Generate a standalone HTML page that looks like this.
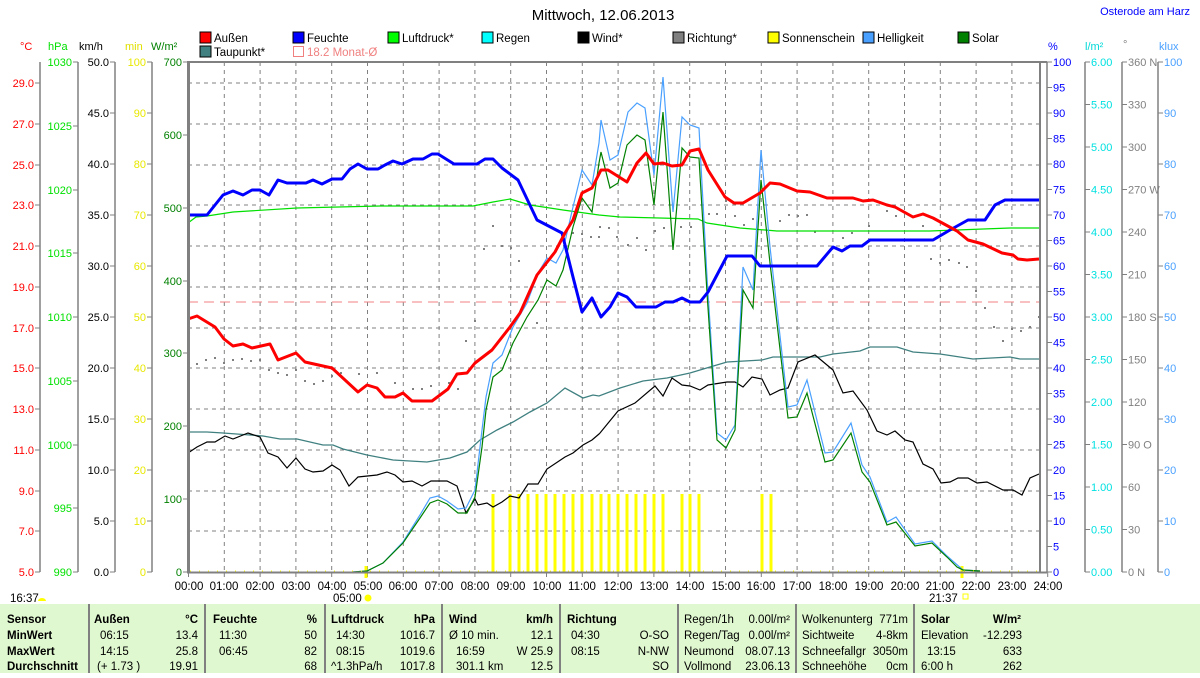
<!DOCTYPE html>
<html><head><meta charset="utf-8"><style>
body{margin:0;background:#fff;width:1200px;height:673px;overflow:hidden;font-family:"Liberation Sans",sans-serif}
svg text{font-family:"Liberation Sans",sans-serif}
</style></head><body>
<svg width="1200" height="673" viewBox="0 0 1200 673" xmlns="http://www.w3.org/2000/svg" font-size="11">
<rect width="1200" height="673" fill="#fff"/>
<text x="603" y="20" font-size="15" text-anchor="middle">Mittwoch, 12.06.2013</text>
<text x="1190" y="15" font-size="11" fill="#0000ff" text-anchor="end">Osterode am Harz</text>
<!-- legend -->
<g font-size="11.5">
<rect x="200" y="32" width="11" height="11" fill="#f00" stroke="#000"/><text x="214" y="42">Außen</text>
<rect x="293" y="32" width="11" height="11" fill="#00f" stroke="#000"/><text x="307" y="42">Feuchte</text>
<rect x="388" y="32" width="11" height="11" fill="#0f0" stroke="#000"/><text x="402" y="42">Luftdruck*</text>
<rect x="482" y="32" width="11" height="11" fill="#0ff" stroke="#000"/><text x="496" y="42">Regen</text>
<rect x="578" y="32" width="11" height="11" fill="#000" stroke="#000"/><text x="592" y="42">Wind*</text>
<rect x="673" y="32" width="11" height="11" fill="#808080" stroke="#000"/><text x="687" y="42">Richtung*</text>
<rect x="768" y="32" width="11" height="11" fill="#ff0" stroke="#000"/><text x="782" y="42">Sonnenschein</text>
<rect x="863" y="32" width="11" height="11" fill="#4aa0ff" stroke="#000"/><text x="877" y="42">Helligkeit</text>
<rect x="958" y="32" width="11" height="11" fill="#008000" stroke="#000"/><text x="972" y="42">Solar</text>
<rect x="200" y="46" width="11" height="11" fill="#408080" stroke="#000"/><text x="214" y="56">Taupunkt*</text>
<rect x="293.5" y="46.5" width="10" height="10" fill="none" stroke="#f08080"/><text x="307" y="56" fill="#f08080">18.2 Monat-Ø</text>
</g>
<!-- axis titles -->
<text x="20" y="50" fill="#f00">°C</text>
<text x="48" y="50" fill="#00e000">hPa</text>
<text x="79" y="50">km/h</text>
<text x="125" y="50" fill="#e0e000">min</text>
<text x="151" y="50" fill="#008000">W/m²</text>
<text x="1048" y="50" fill="#00f">%</text>
<text x="1085" y="50" fill="#00d8d8">l/m²</text>
<text x="1123" y="48" fill="#808080">°</text>
<text x="1159" y="50" fill="#4aa0ff">klux</text>
<!-- axis lines -->
<g stroke="#808080" stroke-width="1.5">
<line x1="40" y1="62" x2="40" y2="572"/><line x1="78" y1="62" x2="78" y2="572"/>
<line x1="115" y1="62" x2="115" y2="572"/><line x1="152" y1="62" x2="152" y2="572"/>
<line x1="1047" y1="62" x2="1047" y2="572"/><line x1="1085" y1="62" x2="1085" y2="572"/>
<line x1="1122" y1="62" x2="1122" y2="572"/><line x1="1158" y1="62" x2="1158" y2="572"/>
</g>
<g fill="#f00" text-anchor="end">
<text x="34" y="87">29.0</text><text x="34" y="128">27.0</text><text x="34" y="169">25.0</text><text x="34" y="209">23.0</text><text x="34" y="250">21.0</text><text x="34" y="291">19.0</text><text x="34" y="332">17.0</text><text x="34" y="372">15.0</text><text x="34" y="413">13.0</text><text x="34" y="454">11.0</text><text x="34" y="495">9.0</text><text x="34" y="535">7.0</text><text x="34" y="576">5.0</text>
</g>
<g stroke="#808080"><path d="M35 83h5M35 124h5M35 165h5M35 205h5M35 246h5M35 287h5M35 328h5M35 368h5M35 409h5M35 450h5M35 491h5M35 531h5M35 572h5"/>
<path d="M73 62h5M73 126h5M73 190h5M73 253h5M73 317h5M73 381h5M73 445h5M73 508h5M73 572h5"/>
<path d="M110 62h5M110 113h5M110 164h5M110 215h5M110 266h5M110 317h5M110 368h5M110 419h5M110 470h5M110 521h5M110 572h5"/>
<path d="M147 62h5M147 113h5M147 164h5M147 215h5M147 266h5M147 317h5M147 368h5M147 419h5M147 470h5M147 521h5M147 572h5"/>
<path d="M183 62h5M183 135h5M183 208h5M183 281h5M183 353h5M183 426h5M183 499h5M183 572h5"/>
<path d="M1047 62h5M1047 87.5h5M1047 113h5M1047 138.5h5M1047 164h5M1047 189.5h5M1047 215h5M1047 240.5h5M1047 266h5M1047 291.5h5M1047 317h5M1047 342.5h5M1047 368h5M1047 393.5h5M1047 419h5M1047 444.5h5M1047 470h5M1047 495.5h5M1047 521h5M1047 546.5h5M1047 572h5"/>
<path d="M1085 62h5M1085 104.5h5M1085 147h5M1085 189.5h5M1085 232h5M1085 274.5h5M1085 317h5M1085 359.5h5M1085 402h5M1085 444.5h5M1085 487h5M1085 529.5h5M1085 572h5"/>
<path d="M1122 62h5M1122 104.5h5M1122 147h5M1122 189.5h5M1122 232h5M1122 274.5h5M1122 317h5M1122 359.5h5M1122 402h5M1122 444.5h5M1122 487h5M1122 529.5h5M1122 572h5"/>
<path d="M1158 62h5M1158 113h5M1158 164h5M1158 215h5M1158 266h5M1158 317h5M1158 368h5M1158 419h5M1158 470h5M1158 521h5M1158 572h5"/>
</g>
<g fill="#00e000" text-anchor="end">
<text x="72" y="66">1030</text><text x="72" y="130">1025</text><text x="72" y="194">1020</text><text x="72" y="257">1015</text><text x="72" y="321">1010</text><text x="72" y="385">1005</text><text x="72" y="449">1000</text><text x="72" y="512">995</text><text x="72" y="576">990</text>
</g>
<g fill="#000" text-anchor="end">
<text x="109" y="66">50.0</text><text x="109" y="117">45.0</text><text x="109" y="168">40.0</text><text x="109" y="219">35.0</text><text x="109" y="270">30.0</text><text x="109" y="321">25.0</text><text x="109" y="372">20.0</text><text x="109" y="423">15.0</text><text x="109" y="474">10.0</text><text x="109" y="525">5.0</text><text x="109" y="576">0.0</text>
</g>
<g fill="#e8e800" text-anchor="end">
<text x="146" y="66">100</text><text x="146" y="117">90</text><text x="146" y="168">80</text><text x="146" y="219">70</text><text x="146" y="270">60</text><text x="146" y="321">50</text><text x="146" y="372">40</text><text x="146" y="423">30</text><text x="146" y="474">20</text><text x="146" y="525">10</text><text x="146" y="576">0</text>
</g>
<g fill="#008000" text-anchor="end">
<text x="182" y="66">700</text><text x="182" y="139">600</text><text x="182" y="212">500</text><text x="182" y="285">400</text><text x="182" y="357">300</text><text x="182" y="430">200</text><text x="182" y="503">100</text><text x="182" y="576">0</text>
</g>
<g fill="#00f">
<text x="1053" y="66">100</text><text x="1053" y="91.5">95</text><text x="1053" y="117">90</text><text x="1053" y="142.5">85</text><text x="1053" y="168">80</text><text x="1053" y="193.5">75</text><text x="1053" y="219">70</text><text x="1053" y="244.5">65</text><text x="1053" y="270">60</text><text x="1053" y="295.5">55</text><text x="1053" y="321">50</text><text x="1053" y="346.5">45</text><text x="1053" y="372">40</text><text x="1053" y="397.5">35</text><text x="1053" y="423">30</text><text x="1053" y="448.5">25</text><text x="1053" y="474">20</text><text x="1053" y="499.5">15</text><text x="1053" y="525">10</text><text x="1053" y="550.5">5</text><text x="1053" y="576">0</text>
</g>
<g fill="#00e0e0">
<text x="1091" y="66">6.00</text><text x="1091" y="108.5">5.50</text><text x="1091" y="151">5.00</text><text x="1091" y="193.5">4.50</text><text x="1091" y="236">4.00</text><text x="1091" y="278.5">3.50</text><text x="1091" y="321">3.00</text><text x="1091" y="363.5">2.50</text><text x="1091" y="406">2.00</text><text x="1091" y="448.5">1.50</text><text x="1091" y="491">1.00</text><text x="1091" y="533.5">0.50</text><text x="1091" y="576">0.00</text>
</g>
<g fill="#808080">
<text x="1128" y="66">360 N</text><text x="1128" y="108.5">330</text><text x="1128" y="151">300</text><text x="1128" y="193.5">270 W</text><text x="1128" y="236">240</text><text x="1128" y="278.5">210</text><text x="1128" y="321">180 S</text><text x="1128" y="363.5">150</text><text x="1128" y="406">120</text><text x="1128" y="448.5">90 O</text><text x="1128" y="491">60</text><text x="1128" y="533.5">30</text><text x="1128" y="576">0 N</text>
</g>
<g fill="#4aa0ff">
<text x="1164" y="66">100</text><text x="1164" y="117">90</text><text x="1164" y="168">80</text><text x="1164" y="219">70</text><text x="1164" y="270">60</text><text x="1164" y="321">50</text><text x="1164" y="372">40</text><text x="1164" y="423">30</text><text x="1164" y="474">20</text><text x="1164" y="525">10</text><text x="1164" y="576">0</text>
</g>
<!-- grid -->
<g stroke="#808080" stroke-dasharray="4,4" stroke-width="1">
<path d="M188 83H1040M188 124H1040M188 165H1040M188 205H1040M188 246H1040M188 287H1040M188 328H1040M188 368H1040M188 409H1040M188 450H1040M188 491H1040M188 531H1040"/>
<path d="M224.3 62V572M260.1 62V572M295.9 62V572M331.7 62V572M367.5 62V572M403.3 62V572M439.1 62V572M474.9 62V572M510.7 62V572M546.5 62V572M582.3 62V572M618.1 62V572M653.9 62V572M689.7 62V572M725.5 62V572M761.3 62V572M797.1 62V572M832.9 62V572M868.7 62V572M904.5 62V572M940.3 62V572M976.1 62V572M1011.9 62V572"/>
</g>
<g stroke="#808080">
<path d="M188.5 572v5M224.3 572v5M260.1 572v5M295.9 572v5M331.7 572v5M367.5 572v5M403.3 572v5M439.1 572v5M474.9 572v5M510.7 572v5M546.5 572v5M582.3 572v5M618.1 572v5M653.9 572v5M689.7 572v5M725.5 572v5M761.3 572v5M797.1 572v5M832.9 572v5M868.7 572v5M904.5 572v5M940.3 572v5M976.1 572v5M1011.9 572v5M1047.7 572v5"/>
</g>
<g text-anchor="middle" font-size="11.5">
<text x="189" y="590">00:00</text><text x="224" y="590">01:00</text><text x="260" y="590">02:00</text><text x="296" y="590">03:00</text><text x="332" y="590">04:00</text><text x="368" y="590">05:00</text><text x="403" y="590">06:00</text><text x="439" y="590">07:00</text><text x="475" y="590">08:00</text><text x="511" y="590">09:00</text><text x="547" y="590">10:00</text><text x="582" y="590">11:00</text><text x="618" y="590">12:00</text><text x="654" y="590">13:00</text><text x="690" y="590">14:00</text><text x="726" y="590">15:00</text><text x="761" y="590">16:00</text><text x="797" y="590">17:00</text><text x="833" y="590">18:00</text><text x="869" y="590">19:00</text><text x="905" y="590">20:00</text><text x="940" y="590">21:00</text><text x="976" y="590">22:00</text><text x="1012" y="590">23:00</text><text x="1048" y="590">24:00</text>
</g>
<text x="333" y="602" font-size="11.5">05:00</text><circle cx="368" cy="598" r="3.5" fill="#ff0"/>
<text x="929" y="602" font-size="11.5">21:37</text><rect x="963" y="594" width="5" height="5" fill="none" stroke="#ff0"/>
<text x="10" y="602" font-size="11.5">16:37</text><path d="M38 601a4 3 0 0 1 8 0z" fill="#ff0"/>
<line x1="188" y1="302" x2="1040" y2="302" stroke="#f08080" stroke-dasharray="10,6"/>
<g stroke="#ff0" stroke-width="3">
<path d="M493 572V494M510 572V494M519 572V494M528 572V494M537 572V494M546 572V494M555 572V494M564 572V494M573 572V494M582 572V494M592 572V494M601 572V494M609 572V494M618 572V494M627 572V494M636 572V494M645 572V494M654 572V494M663 572V494M682 572V494M690 572V494M699 572V494M762 572V494M771 572V494"/>
<path d="M366 566V578M962 566V578"/>
</g>
<g fill="#808080">
<rect x="196" y="363" width="2" height="2"/><rect x="205" y="359" width="2" height="2"/><rect x="214" y="357" width="2" height="2"/><rect x="223" y="362" width="2" height="2"/><rect x="232" y="359" width="2" height="2"/><rect x="241" y="358" width="2" height="2"/><rect x="250" y="360" width="2" height="2"/><rect x="259" y="359" width="2" height="2"/><rect x="268" y="369" width="2" height="2"/><rect x="277" y="372" width="2" height="2"/><rect x="286" y="374" width="2" height="2"/><rect x="295" y="369" width="2" height="2"/><rect x="304" y="380" width="2" height="2"/><rect x="313" y="383" width="2" height="2"/><rect x="322" y="380" width="2" height="2"/><rect x="331" y="375" width="2" height="2"/><rect x="340" y="372" width="2" height="2"/><rect x="358" y="373" width="2" height="2"/><rect x="376" y="372" width="2" height="2"/><rect x="394" y="382" width="2" height="2"/><rect x="412" y="388" width="2" height="2"/><rect x="421" y="388" width="2" height="2"/><rect x="430" y="385" width="2" height="2"/><rect x="448" y="382" width="2" height="2"/><rect x="457" y="388" width="2" height="2"/><rect x="465" y="340" width="2" height="2"/><rect x="474" y="320" width="2" height="2"/><rect x="483" y="248" width="2" height="2"/><rect x="492" y="225" width="2" height="2"/><rect x="501" y="245" width="2" height="2"/><rect x="510" y="247" width="2" height="2"/><rect x="518" y="260" width="2" height="2"/><rect x="536" y="322" width="2" height="2"/><rect x="563" y="245" width="2" height="2"/><rect x="572" y="232" width="2" height="2"/><rect x="581" y="233" width="2" height="2"/><rect x="590" y="236" width="2" height="2"/><rect x="598" y="236" width="2" height="2"/><rect x="599" y="226" width="2" height="2"/><rect x="608" y="227" width="2" height="2"/><rect x="616" y="236" width="2" height="2"/><rect x="627" y="244" width="2" height="2"/><rect x="636" y="237" width="2" height="2"/><rect x="645" y="249" width="2" height="2"/><rect x="654" y="230" width="2" height="2"/><rect x="663" y="227" width="2" height="2"/><rect x="680" y="226" width="2" height="2"/><rect x="690" y="226" width="2" height="2"/><rect x="708" y="213" width="2" height="2"/><rect x="716" y="213" width="2" height="2"/><rect x="725" y="200" width="2" height="2"/><rect x="734" y="215" width="2" height="2"/><rect x="743" y="224" width="2" height="2"/><rect x="752" y="218" width="2" height="2"/><rect x="779" y="220" width="2" height="2"/><rect x="788" y="214" width="2" height="2"/><rect x="797" y="215" width="2" height="2"/><rect x="806" y="214" width="2" height="2"/><rect x="814" y="231" width="2" height="2"/><rect x="842" y="237" width="2" height="2"/><rect x="851" y="232" width="2" height="2"/><rect x="868" y="225" width="2" height="2"/><rect x="886" y="210" width="2" height="2"/><rect x="895" y="215" width="2" height="2"/><rect x="922" y="225" width="2" height="2"/><rect x="930" y="258" width="2" height="2"/><rect x="939" y="262" width="2" height="2"/><rect x="948" y="259" width="2" height="2"/><rect x="958" y="262" width="2" height="2"/><rect x="966" y="266" width="2" height="2"/><rect x="975" y="290" width="2" height="2"/><rect x="984" y="307" width="2" height="2"/><rect x="993" y="326" width="2" height="2"/><rect x="1002" y="340" width="2" height="2"/><rect x="1011" y="328" width="2" height="2"/><rect x="1020" y="330" width="2" height="2"/><rect x="1029" y="326" width="2" height="2"/><rect x="1038" y="316" width="2" height="2"/>
</g>
<polyline fill="none" stroke="#408080" stroke-width="1.3" points="188,432 207,432 223,433 263,436 280,439 297,439 323,445 333,445 343,449 367,455 393,460 427,462 450,458 467,452 480,440 497,430 513,422 530,412 547,403 565,388 583,398 593,395 599,396 620,388 643,381 667,378 690,373 710,367 727,362 762,360 773,357 820,357 833,354 860,351 870,347 897,347 913,352 940,354 973,359 1010,357 1020,359 1039,359"/>
<polyline fill="none" stroke="#00e000" stroke-width="1.2" points="188,223 196,217 207,216 233,212 297,208 380,206 473,206 493,202 510,199 530,205 563,210 599,215 620,217 698,219 707,223 740,228 777,231 930,231 1010,228 1039,228"/>
<polyline fill="none" stroke="#000" stroke-width="1.2" points="188,453 197,447 207,442 215,442 225,436 233,439 248,433 260,437 268,453 278,457 287,468 296,458 305,469 313,472 323,471 332,465 340,470 349,486 358,477 377,475 387,472 395,475 403,482 412,481 422,486 431,481 447,481 457,486 466,513 475,499 478,505 487,503 493,507 502,502 510,496 519,498 528,484 538,484 547,469 565,457 573,453 583,445 592,440 599,434 600,433 618,411 635,403 655,386 663,396 672,378 682,385 690,386 700,390 708,385 727,382 735,382 743,387 752,377 762,379 770,395 780,390 788,388 798,362 815,355 833,370 843,393 853,391 867,410 877,431 887,435 895,431 905,440 913,442 923,464 933,469 941,483 950,482 958,478 968,478 977,483 987,482 1003,490 1013,490 1022,495 1030,478 1039,474"/>
<polyline fill="none" stroke="#4aa0ff" stroke-width="1.2" points="353,572 367,571 383,563 403,542 420,515 430,498 438,496 447,501 458,509 466,508 475,490 482,430 486,397 493,363 502,355 513,327 527,303 538,273 547,258 556,263 563,250 573,207 582,170 592,185 599,143 601,120 610,160 618,155 628,112 637,103 645,108 654,175 663,77 673,212 682,117 690,125 699,128 707,277 717,433 726,440 735,425 743,267 753,290 761,150 770,247 788,407 797,405 807,380 825,453 833,452 851,423 862,465 870,477 887,522 896,517 915,544 932,541 947,556 963,570 980,571"/>
<polyline fill="none" stroke="#008000" stroke-width="1.2" points="353,572 367,571 383,563 403,543 420,518 430,503 438,500 447,504 458,513 467,513 475,497 482,447 486,410 493,377 502,370 513,343 527,317 538,300 547,280 556,286 563,270 573,227 582,198 592,212 599,163 601,152 610,188 618,183 627,145 637,135 645,140 654,205 663,112 673,250 682,148 690,157 699,158 707,293 717,440 726,448 735,430 743,290 753,308 761,180 770,263 788,418 797,417 807,393 825,462 833,460 851,433 862,472 870,482 887,525 896,522 915,546 932,543 947,557 957,567 963,570 980,571"/>
<polyline fill="none" stroke="#00f" stroke-width="3" stroke-linejoin="round" points="188,215 207,215 223,195 233,191 243,195 252,190 260,190 269,195 278,180 287,183 306,183 313,180 322,184 332,179 342,179 350,169 358,164 367,169 378,169 385,165 393,161 402,164 413,159 423,159 432,154 438,154 454,164 477,164 485,159 493,159 502,168 518,180 537,220 562,233 573,277 582,312 592,298 601,317 610,307 618,293 627,297 636,307 656,307 665,302 673,302 682,298 690,302 700,302 708,292 727,256 752,256 760,266 817,266 833,247 842,251 850,246 862,246 870,240 933,240 950,230 968,220 985,220 995,205 1005,200 1039,200"/>
<polyline fill="none" stroke="#f00" stroke-width="3" stroke-linejoin="round" points="188,319 197,316 215,327 224,339 233,346 243,344 252,348 270,344 278,360 296,353 305,362 332,368 358,392 367,385 377,388 385,397 395,397 403,393 412,401 432,401 448,389 457,374 467,373 475,363 492,350 510,327 520,313 537,275 555,252 565,233 573,220 582,193 592,188 601,170 608,170 627,182 637,163 646,153 654,164 663,163 672,166 682,165 690,151 699,149 708,170 725,197 734,203 743,203 760,193 770,183 780,184 797,191 810,192 827,198 853,198 863,201 873,200 887,205 895,207 913,217 923,214 933,218 957,231 968,240 983,244 1002,253 1013,255 1018,259 1027,260 1039,259"/>
<line x1="190" y1="571" x2="1040" y2="571" stroke="#ff0" stroke-width="1" stroke-dasharray="1,8"/>
<g stroke="#808080" fill="none">
<line x1="188.5" y1="62" x2="188.5" y2="573" stroke-width="3"/>
<line x1="187" y1="62" x2="1047" y2="62" stroke-width="2"/>
<line x1="187" y1="572.5" x2="1047" y2="572.5" stroke-width="2"/>
<line x1="1040" y1="62" x2="1040" y2="572" stroke-width="2"/>
</g>
<rect x="0" y="604" width="1200" height="69" fill="#e0f8d0"/>
<g stroke="#808080" stroke-width="2"><path d="M89 604V673M205 604V673M325 604V673M442 604V673M560 604V673M678 604V673M796 604V673M914 604V673"/></g>
<g font-size="11.5">
<g font-weight="bold">
<text x="7" y="623">Sensor</text><text x="7" y="639">MinWert</text><text x="7" y="655">MaxWert</text><text x="7" y="670">Durchschnitt</text>
<text x="94" y="623">Außen</text><text x="198" y="623" text-anchor="end">°C</text>
<text x="213" y="623">Feuchte</text><text x="317" y="623" text-anchor="end">%</text>
<text x="331" y="623">Luftdruck</text><text x="435" y="623" text-anchor="end">hPa</text>
<text x="449" y="623">Wind</text><text x="553" y="623" text-anchor="end">km/h</text>
<text x="567" y="623">Richtung</text>
<text x="921" y="623">Solar</text><text x="1021" y="623" text-anchor="end">W/m²</text>
</g>
<text x="100" y="639">06:15</text><text x="198" y="639" text-anchor="end">13.4</text>
<text x="100" y="655">14:15</text><text x="198" y="655" text-anchor="end">25.8</text>
<text x="97" y="670">(+ 1.73 )</text><text x="198" y="670" text-anchor="end">19.91</text>
<text x="219" y="639">11:30</text><text x="317" y="639" text-anchor="end">50</text>
<text x="219" y="655">06:45</text><text x="317" y="655" text-anchor="end">82</text>
<text x="317" y="670" text-anchor="end">68</text>
<text x="336" y="639">14:30</text><text x="435" y="639" text-anchor="end">1016.7</text>
<text x="336" y="655">08:15</text><text x="435" y="655" text-anchor="end">1019.6</text>
<text x="331" y="670">^1.3hPa/h</text><text x="435" y="670" text-anchor="end">1017.8</text>
<text x="449" y="639">Ø 10 min.</text><text x="553" y="639" text-anchor="end">12.1</text>
<text x="456" y="655">16:59</text><text x="553" y="655" text-anchor="end">W 25.9</text>
<text x="456" y="670">301.1 km</text><text x="553" y="670" text-anchor="end">12.5</text>
<text x="571" y="639">04:30</text><text x="669" y="639" text-anchor="end">O-SO</text>
<text x="571" y="655">08:15</text><text x="669" y="655" text-anchor="end">N-NW</text>
<text x="669" y="670" text-anchor="end">SO</text>
<text x="684" y="623">Regen/1h</text><text x="790" y="623" text-anchor="end">0.00l/m²</text>
<text x="684" y="639">Regen/Tag</text><text x="790" y="639" text-anchor="end">0.00l/m²</text>
<text x="684" y="655">Neumond</text><text x="790" y="655" text-anchor="end">08.07.13</text>
<text x="684" y="670">Vollmond</text><text x="790" y="670" text-anchor="end">23.06.13</text>
<text x="802" y="623">Wolkenunterg</text><text x="908" y="623" text-anchor="end">771m</text>
<text x="802" y="639">Sichtweite</text><text x="908" y="639" text-anchor="end">4-8km</text>
<text x="802" y="655">Schneefallgr</text><text x="908" y="655" text-anchor="end">3050m</text>
<text x="802" y="670">Schneehöhe</text><text x="908" y="670" text-anchor="end">0cm</text>
<text x="921" y="639">Elevation</text><text x="1022" y="639" text-anchor="end">-12.293</text>
<text x="927" y="655">13:15</text><text x="1022" y="655" text-anchor="end">633</text>
<text x="921" y="670">6:00 h</text><text x="1022" y="670" text-anchor="end">262</text>
</g>
</svg>
</body></html>
